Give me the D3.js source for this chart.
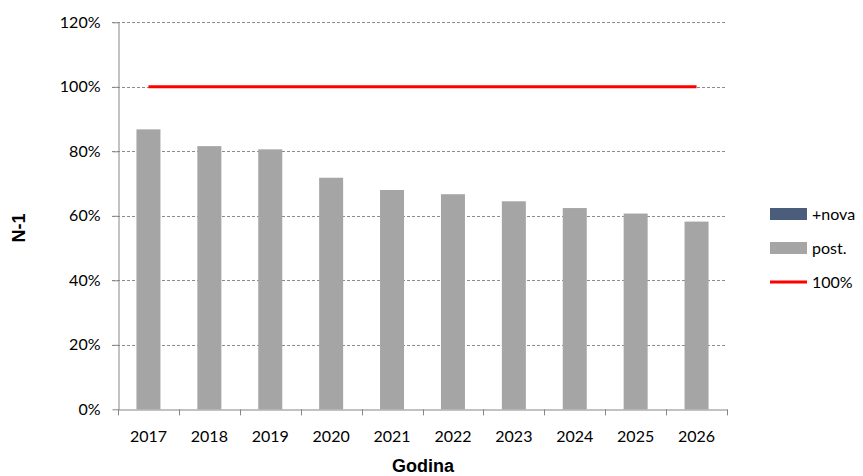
<!DOCTYPE html>
<html>
<head>
<meta charset="utf-8">
<script src="https://cdn.jsdelivr.net/npm/d3@7"></script>
<style>
  body { margin: 0; background: #fff; }
  svg { display: block; }
</style>
</head>
<body>
<div id="chart"></div>
<script>
const years = ['2017', '2018', '2019', '2020', '2021', '2022', '2023', '2024', '2025', '2026'];
const postValues = [86.8, 81.6, 80.6, 71.8, 68.0, 66.7, 64.5, 62.4, 60.7, 58.2];
const novaValues = [0, 0, 0, 0, 0, 0, 0, 0, 0, 0];
const limitValues = [100, 100, 100, 100, 100, 100, 100, 100, 100, 100];
const yTicks = [0, 20, 40, 60, 80, 100, 120];
const legendLabels = ['+nova', 'post.', '100%'];

const width = 863;
const height = 476;
const margin = {top: 22.3, right: 136, bottom: 66.7, left: 118};

const svg = d3.select('#chart')
  .append('svg')
  .attr('width', width)
  .attr('height', height);

const x = d3.scaleBand()
  .domain(years)
  .range([margin.left, width - margin.right]);

const y = d3.scaleLinear()
  .domain([0, 120])
  .range([height - margin.bottom, margin.top]);

const barW = 24;
const axisColor = '#868686';
const tickFont = 'Lato, "Open Sans", sans-serif';
const tickSize = '16px';

// grid lines
svg.append('g')
  .selectAll('line')
  .data(yTicks.filter(d => d > 0))
  .enter()
  .append('line')
  .attr('x1', margin.left - 6)
  .attr('x2', width - margin.right)
  .attr('y1', d => Math.round(y(d)) + 0.5)
  .attr('y2', d => Math.round(y(d)) + 0.5)
  .attr('stroke', '#8c8c8c')
  .attr('stroke-width', 1)
  .attr('stroke-dasharray', '3,2');

// bars (post.)
svg.append('g')
  .selectAll('rect')
  .data(years)
  .enter()
  .append('rect')
  .attr('x', d => x(d) + x.bandwidth() / 2 - barW / 2)
  .attr('y', (d, i) => y(postValues[i]))
  .attr('width', barW)
  .attr('height', (d, i) => y(0) - y(postValues[i]))
  .attr('fill', '#a5a5a5');

// +nova stacked on top (zero here)
svg.append('g')
  .selectAll('rect')
  .data(years)
  .enter()
  .append('rect')
  .attr('x', d => x(d) + x.bandwidth() / 2 - barW / 2)
  .attr('y', (d, i) => y(postValues[i] + novaValues[i]))
  .attr('width', barW)
  .attr('height', (d, i) => y(postValues[i]) - y(postValues[i] + novaValues[i]))
  .attr('fill', '#4a5d7a');

// 100% line
const line = d3.line()
  .x((d, i) => x(years[i]) + x.bandwidth() / 2)
  .y(d => y(d));

svg.append('path')
  .datum(limitValues)
  .attr('d', line)
  .attr('fill', 'none')
  .attr('stroke', '#ff0000')
  .attr('stroke-width', 3);

// y axis
const yAxis = svg.append('g')
  .attr('transform', `translate(${margin.left + 0.5},0)`)
  .call(d3.axisLeft(y).tickValues(yTicks).tickFormat(d => d + '%').tickSize(6).tickSizeOuter(0));
yAxis.select('.domain').attr('stroke', axisColor);
yAxis.selectAll('.tick line').attr('stroke', axisColor);
yAxis.selectAll('.tick text')
  .attr('x', -18)
  .attr('fill', '#000')
  .style('font-family', tickFont)
  .style('font-size', tickSize);

// x axis
const xAxis = svg.append('g')
  .attr('transform', `translate(0,${Math.round(y(0)) + 0.5})`)
  .call(d3.axisBottom(x).tickSize(0).tickSizeOuter(0));
xAxis.select('.domain').attr('stroke', axisColor);
xAxis.selectAll('.tick text')
  .attr('y', 32)
  .attr('dy', 0)
  .attr('fill', '#000')
  .style('font-family', tickFont)
  .style('font-size', tickSize);

// x ticks at band boundaries
const bounds = years.map(d => x(d)).concat([x(years[years.length - 1]) + x.bandwidth()]);
svg.append('g')
  .selectAll('line')
  .data(bounds)
  .enter()
  .append('line')
  .attr('x1', d => Math.round(d) + 0.5)
  .attr('x2', d => Math.round(d) + 0.5)
  .attr('y1', y(0))
  .attr('y2', y(0) + 6)
  .attr('stroke', axisColor);

// axis titles
svg.append('text')
  .text('Godina')
  .attr('x', (margin.left + width - margin.right) / 2 + 0.5)
  .attr('y', 472)
  .attr('text-anchor', 'middle')
  .style('font-family', '"Liberation Sans", Arial, sans-serif')
  .style('font-weight', 'bold')
  .style('font-size', '18px');

svg.append('text')
  .text('N-1')
  .attr('transform', 'translate(25, 228) rotate(-90)')
  .attr('text-anchor', 'middle')
  .style('font-family', '"Liberation Sans", Arial, sans-serif')
  .style('font-weight', 'bold')
  .style('font-size', '18px');

// legend
const legend = svg.append('g')
  .attr('transform', 'translate(770, 214)');

const legendItems = legend.selectAll('g')
  .data(legendLabels)
  .enter()
  .append('g')
  .attr('transform', (d, i) => `translate(0, ${i * 34})`);

legendItems.each(function(d, i) {
  const g = d3.select(this);
  if (i < 2) {
    g.append('rect')
      .attr('x', 0)
      .attr('y', -6)
      .attr('width', 37)
      .attr('height', 12)
      .attr('fill', i === 0 ? '#4a5d7a' : '#a5a5a5');
  } else {
    g.append('line')
      .attr('x1', 0)
      .attr('x2', 37)
      .attr('y1', 0)
      .attr('y2', 0)
      .attr('stroke', '#ff0000')
      .attr('stroke-width', 3);
  }
  g.append('text')
    .text(d)
    .attr('x', 42)
    .attr('dy', '0.35em')
    .style('font-family', tickFont)
    .style('font-size', tickSize);
});
</script>
</body>
</html>
